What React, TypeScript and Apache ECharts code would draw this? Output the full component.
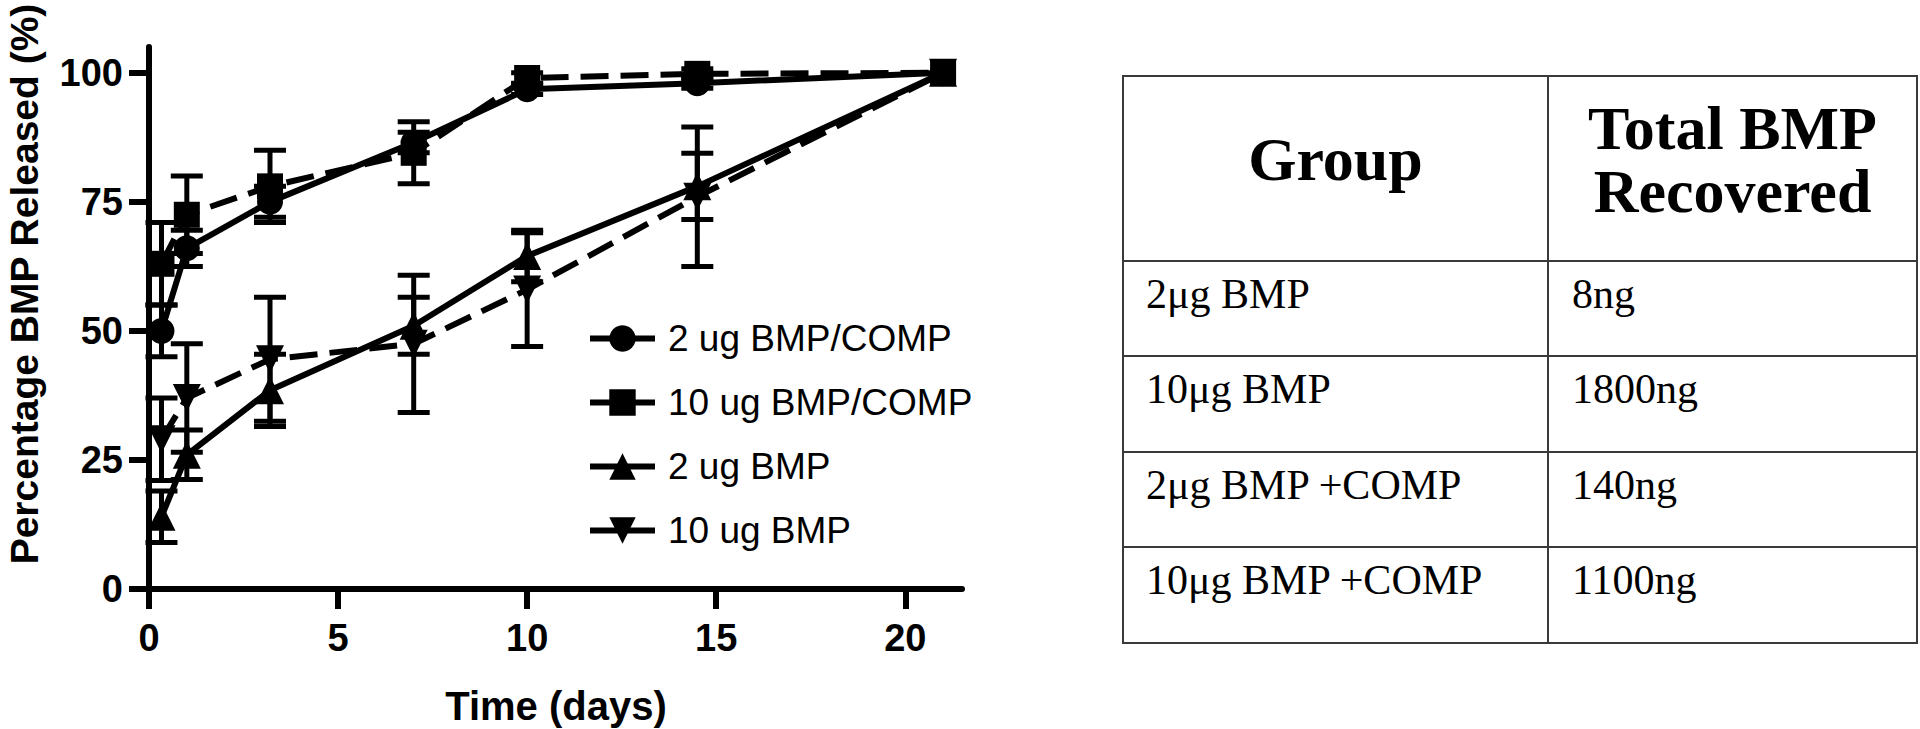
import React, { useEffect, useRef } from "react";
import * as echarts from "echarts";

// ---------- data ----------
const times = [0.33, 1, 3.2, 7, 10, 14.5, 21];

const seriesNames = ["2 ug BMP/COMP", "10 ug BMP/COMP", "2 ug BMP", "10 ug BMP"];

const comp2Mean = [50, 66, 75, 86.5, 96.8, 98, 100];
const comp2Err = [5, 3.5, 3, 2, 1, 1, 0];

const comp10Mean = [63, 72.5, 78, 84.5, 99, 99.8, 100];
const comp10Err = [8, 7.5, 7, 6, 1, 1, 0];

const bmp2Mean = [14, 26, 38.5, 51, 64.5, 78, 100];
const bmp2Err = [5, 4.8, 7, 5.5, 5, 6.4, 0];

const bmp10Mean = [29, 37, 44.5, 47.5, 58, 76, 100];
const bmp10Err = [8, 10.5, 12, 13.3, 11, 13.5, 0];

const xTicks = [0, 5, 10, 15, 20];
const yTicks = [0, 25, 50, 75, 100];

const tableHeader = ["Group", "Total BMP\nRecovered"];
const tableGroups = ["2μg BMP", "10μg BMP", "2μg BMP +COMP", "10μg BMP +COMP"];
const tableRecovered = ["8ng", "1800ng", "140ng", "1100ng"];

// ---------- helpers ----------
const SANS = "'Liberation Sans', Arial, Helvetica, sans-serif";
const SERIF = "'Liberation Serif', 'Times New Roman', serif";

function pairs(xs: number[], ys: number[]) {
  return xs.map((x, i) => [x, ys[i]]);
}
function triples(xs: number[], ys: number[], es: number[]) {
  return xs.map((x, i) => [x, ys[i], es[i]]).filter((d) => d[2] > 0);
}

function errorBarSeries(name: string, data: number[][]) {
  return {
    type: "custom",
    name: name + " err",
    z: 1,
    silent: true,
    clip: false,
    data,
    encode: { x: 0, y: 1 },
    renderItem: (params: any, api: any) => {
      const x = api.value(0);
      const y = api.value(1);
      const e = api.value(2);
      const top = api.coord([x, y + e]);
      const bot = api.coord([x, y - e]);
      const half = 16;
      const st = { stroke: "#000", lineWidth: 5 };
      return {
        type: "group",
        children: [
          { type: "line", shape: { x1: top[0], y1: top[1], x2: bot[0], y2: bot[1] }, style: st },
          { type: "line", shape: { x1: top[0] - half, y1: top[1], x2: top[0] + half, y2: top[1] }, style: st },
          { type: "line", shape: { x1: bot[0] - half, y1: bot[1], x2: bot[0] + half, y2: bot[1] }, style: st },
        ],
      };
    },
  };
}

function lineSeries(name: string, data: number[][], symbol: string, size: number, dashed: boolean, rotate = 0) {
  return {
    type: "line",
    name,
    data,
    z: 3,
    symbol,
    symbolSize: size,
    symbolRotate: rotate,
    showAllSymbol: true,
    clip: false,
    itemStyle: { color: "#000", borderWidth: 0 },
    lineStyle: { color: "#000", width: 6, type: dashed ? [28, 12] : "solid" },
  };
}

// ---------- table graphic ----------
function buildTable() {
  const L = 1123, R = 1917, T = 76, B = 643, MID = 1548;
  const rowLines = [261, 356, 452, 547];
  const border = { stroke: "#3a3a3a", lineWidth: 2 };
  const els: any[] = [];
  els.push({ type: "rect", shape: { x: L, y: T, width: R - L, height: B - T }, style: { fill: "#fff", ...border } });
  els.push({ type: "line", shape: { x1: MID, y1: T, x2: MID, y2: B }, style: border });
  rowLines.forEach((y) => els.push({ type: "line", shape: { x1: L, y1: y, x2: R, y2: y }, style: border }));

  els.push({
    type: "text",
    x: (L + MID) / 2,
    y: 159,
    style: { text: tableHeader[0], font: `bold 62px ${SERIF}`, fill: "#000", align: "center", verticalAlign: "middle" },
  });
  els.push({
    type: "text",
    x: (MID + R) / 2,
    y: 159,
    style: {
      text: tableHeader[1],
      font: `bold 62px ${SERIF}`,
      lineHeight: 63,
      fill: "#000",
      align: "center",
      verticalAlign: "middle",
    },
  });
  const rowTops = [261, 356, 452, 547];
  tableGroups.forEach((g, i) => {
    const y = rowTops[i] + 33;
    els.push({ type: "text", x: 1146, y, style: { text: g, font: `42px ${SERIF}`, fill: "#000", align: "left", verticalAlign: "middle" } });
    els.push({
      type: "text",
      x: 1572,
      y,
      style: { text: tableRecovered[i], font: `42px ${SERIF}`, fill: "#000", align: "left", verticalAlign: "middle" },
    });
  });
  return els;
}

export default function App() {
  const ref = useRef<HTMLDivElement>(null);

  useEffect(() => {
    if (!ref.current) return;
    const chart = echarts.init(ref.current, undefined, { renderer: "svg" });

    const option: any = {
      animation: false,
      backgroundColor: "#fff",
      grid: { left: 149, top: 47, width: 813, height: 542, containLabel: false },
      xAxis: {
        type: "value",
        min: 0,
        max: 21.5,
        interval: 5,
        splitLine: { show: false },
        axisLine: { show: true, onZero: false, lineStyle: { color: "#000", width: 6 } },
        axisTick: { show: true, inside: false, length: 20, lineStyle: { color: "#000", width: 6 } },
        axisLabel: {
          margin: 30,
          color: "#000",
          fontSize: 38,
          fontWeight: "bold",
          fontFamily: SANS,
          showMaxLabel: false,
          formatter: (v: number) => (xTicks.indexOf(v) >= 0 ? String(v) : ""),
        },
      },
      yAxis: {
        type: "value",
        min: 0,
        max: 105,
        interval: 25,
        splitLine: { show: false },
        axisLine: { show: true, onZero: false, lineStyle: { color: "#000", width: 6 } },
        axisTick: { show: true, inside: false, length: 20, lineStyle: { color: "#000", width: 6 } },
        axisLabel: {
          margin: 26,
          color: "#000",
          fontSize: 38,
          fontWeight: "bold",
          fontFamily: SANS,
          showMaxLabel: false,
          formatter: (v: number) => (yTicks.indexOf(v) >= 0 ? String(v) : ""),
        },
      },
      legend: {
        data: seriesNames,
        orient: "vertical",
        left: 582,
        top: 315,
        itemWidth: 65,
        itemHeight: 33,
        itemGap: 27,
        lineStyle: { type: "solid", width: 6, color: "#000" },
        itemStyle: { color: "#000" },
        textStyle: { color: "#000", fontSize: 37, fontFamily: SANS, padding: [0, 0, 0, 8] },
        selectedMode: false,
      },
      graphic: [
        {
          type: "text",
          x: 24,
          y: 284,
          rotation: Math.PI / 2,
          style: {
            text: "Percentage BMP Released (%)",
            font: `bold 39px ${SANS}`,
            fill: "#000",
            align: "center",
            verticalAlign: "middle",
          },
        },
        {
          type: "text",
          x: 556,
          y: 706,
          style: {
            text: "Time (days)",
            font: `bold 40px ${SANS}`,
            fill: "#000",
            align: "center",
            verticalAlign: "middle",
          },
        },
        ...buildTable(),
      ],
      series: [
        errorBarSeries(seriesNames[0], triples(times, comp2Mean, comp2Err)),
        errorBarSeries(seriesNames[1], triples(times, comp10Mean, comp10Err)),
        errorBarSeries(seriesNames[2], triples(times, bmp2Mean, bmp2Err)),
        errorBarSeries(seriesNames[3], triples(times, bmp10Mean, bmp10Err)),
        lineSeries(seriesNames[0], pairs(times, comp2Mean), "circle", 26, false),
        lineSeries(seriesNames[1], pairs(times, comp10Mean), "rect", 26, true),
        lineSeries(seriesNames[2], pairs(times, bmp2Mean), "triangle", 28, false),
        lineSeries(seriesNames[3], pairs(times, bmp10Mean), "triangle", 28, true, 180),
      ],
    };

    chart.setOption(option);
    return () => chart.dispose();
  }, []);

  return (
    <div
      ref={ref}
      style={{ position: "absolute", left: 0, top: 0, width: 1920, height: 729, background: "#fff" }}
    />
  );
}
